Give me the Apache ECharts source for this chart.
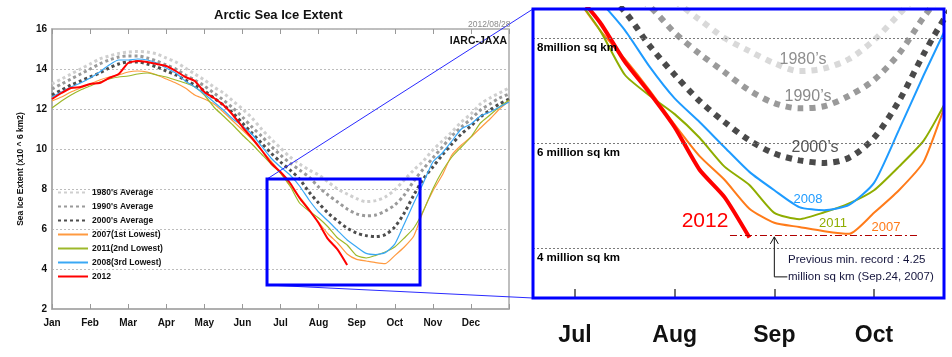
<!DOCTYPE html>
<html><head><meta charset="utf-8">
<script src="https://cdn.jsdelivr.net/npm/echarts@6/dist/echarts.min.js"></script>
<style>html,body{margin:0;padding:0;background:#fff}#c{width:952px;height:357px}</style>
</head><body><div id="c"></div>
<script>
// x positions in month units (0 = Jan 1, 12 = Dec 31)
const months = [0,0.25,0.5,0.75,1,1.25,1.5,1.75,2,2.25,2.5,2.75,3,3.25,3.5,3.75,4,4.25,4.5,4.75,5,5.25,5.5,5.75,6,6.25,6.5,6.75,7,7.25,7.5,7.75,8,8.25,8.5,8.75,9,9.25,9.5,9.75,10,10.25,10.5,10.75,11,11.25,11.5,11.75,12];
const monthLabels = ['Jan','Feb','Mar','Apr','May','Jun','Jul','Aug','Sep','Oct','Nov','Dec'];
const zoomTicks = [6,7,8,9];
const zoomLabels = ['Jul','Aug','Sep','Oct'];
const yTicks = [2,4,6,8,10,12,14,16];
const zoomGridValues = [8,6,4];
const zoomGridLabels = ['8million sq km','6 million sq km','4 million sq km'];
const prevMinRecord = 4.25;

const avg1980 = [13.25,13.5,13.75,14.0,14.25,14.5,14.65,14.78,14.85,14.88,14.85,14.75,14.55,14.35,14.05,13.75,13.45,13.1,12.8,12.4,12.0,11.55,11.0,10.5,10.05,9.6,9.25,8.95,8.7,8.35,8.0,7.75,7.52,7.37,7.42,7.6,7.96,8.45,8.95,9.4,9.95,10.4,10.85,11.35,11.75,12.25,12.55,12.8,13.05];
const avg1990 = [13.0,13.25,13.5,13.75,14.0,14.25,14.45,14.6,14.65,14.65,14.55,14.4,14.2,14.0,13.7,13.45,13.15,12.8,12.45,12.05,11.6,11.1,10.65,10.15,9.7,9.3,8.95,8.6,8.1,7.7,7.35,7.0,6.76,6.66,6.7,6.9,7.2,7.7,8.4,9.0,9.55,10.1,10.65,11.1,11.5,11.95,12.25,12.55,12.75];
const avg2000 = [12.7,12.95,13.2,13.4,13.6,13.8,14.05,14.25,14.35,14.35,14.25,14.1,13.9,13.7,13.45,13.2,12.9,12.55,12.2,11.8,11.3,10.8,10.3,9.8,9.35,8.95,8.5,7.85,7.3,6.8,6.4,6.05,5.8,5.67,5.62,5.72,6.1,6.8,7.7,8.5,9.1,9.7,10.25,10.75,11.15,11.6,11.95,12.25,12.5];
const y2007 = [12.4,12.6,12.85,13.05,13.25,13.45,13.6,13.7,13.85,13.9,13.85,13.7,13.5,13.3,13.05,12.7,12.5,12.25,11.85,11.4,10.95,10.5,9.95,9.4,8.8,8.15,7.6,7.0,6.35,5.75,5.3,4.75,4.48,4.4,4.32,4.27,4.67,5.1,5.65,6.9,7.9,8.7,9.7,10.2,10.6,11.05,11.5,12.0,12.4];
const y2011 = [12.05,12.4,12.7,12.95,13.15,13.35,13.5,13.6,13.65,13.75,13.8,13.7,13.6,13.45,13.3,13.1,12.7,12.1,11.65,11.2,10.7,10.25,9.75,9.25,8.8,8.15,7.3,6.9,6.55,6.1,5.55,5.2,4.67,4.55,4.68,4.85,5.1,5.55,6.05,6.9,8.0,8.9,9.6,10.1,10.6,11.3,11.7,12.1,12.45];
const y2008 = [12.6,12.85,13.1,13.3,13.55,13.85,14.2,14.45,14.45,14.5,14.45,14.3,14.05,13.8,13.4,13.1,12.75,12.35,11.95,11.5,11.15,10.75,10.15,9.55,9.1,8.7,8.15,7.45,6.85,6.4,5.92,5.45,5.1,4.78,4.72,4.82,5.24,6.25,7.3,8.3,9.35,9.8,10.4,11.0,11.25,11.65,11.85,12.1,12.35];
const y2012 = [12.5,12.8,13.05,13.1,13.25,13.3,13.55,13.75,14.3,14.4,14.35,14.25,14.15,13.9,13.6,13.4,12.85,12.55,12.2,11.7,11.1,10.55,9.95,9.3,8.85,8.3,7.55,6.95,6.3,5.49,4.97,4.2];

const FONT = '"Liberation Sans", Arial, sans-serif';
const pairs = vals => vals.map((v, i) => [months[i], v]);

const seriesDefs = [
  {name: "1980's Average", data: avg1980, lc: '#cfcfcf', lw: 3, ld: [3,3], rc: '#d9d9d9', rw: 6, rd: [6,6], smooth: 0.3},
  {name: "1990's Average", data: avg1990, lc: '#9a9a9a', lw: 3, ld: [3,3], rc: '#9a9a9a', rw: 6, rd: [6,6], smooth: 0.3},
  {name: "2000's Average", data: avg2000, lc: '#4d4d4d', lw: 3, ld: [3,3], rc: '#4a4a4a', rw: 6, rd: [6,6], smooth: 0.3},
  {name: '2007(1st Lowest)', data: y2007, lc: '#ff9a40', lw: 1.2, ld: 'solid', rc: '#ff7b1a', rw: 2, rd: 'solid', smooth: 0.2},
  {name: '2011(2nd Lowest)', data: y2011, lc: '#9db82a', lw: 1.2, ld: 'solid', rc: '#8fad00', rw: 2, rd: 'solid', smooth: 0.2},
  {name: '2008(3rd Lowest)', data: y2008, lc: '#3aa8f5', lw: 1.2, ld: 'solid', rc: '#1e9bff', rw: 2, rd: 'solid', smooth: 0.2},
  {name: '2012', data: y2012, lc: '#ff0000', lw: 2, ld: 'solid', rc: '#ff0000', rw: 4, rd: 'solid', smooth: 0.2}
];

const series = [];
seriesDefs.forEach(d => {
  series.push({
    name: d.name, type: 'line', xAxisIndex: 0, yAxisIndex: 0, data: pairs(d.data),
    symbol: 'none', smooth: d.smooth, color: d.lc,
    lineStyle: {color: d.lc, width: d.lw, type: d.ld}, z: 3
  });
});
seriesDefs.forEach((d, k) => {
  const s = {
    name: 'zoom ' + d.name, type: 'line', xAxisIndex: 2, yAxisIndex: 1, data: pairs(d.data),
    symbol: 'none', smooth: d.smooth, color: d.rc,
    lineStyle: {color: d.rc, width: d.rw, type: d.rd}, z: 3, clip: true
  };
  if (k === 0) {
    s.markLine = {
      silent: true, symbol: 'none', animation: false,
      lineStyle: {color: '#7a7a7a', width: 1, type: [2,2]},
      label: {position: 'insideStartBottom', distance: [4, 4], fontFamily: FONT, fontWeight: 'bold', fontSize: 11.5, color: '#000'},
      data: zoomGridValues.map((v, i) => ({yAxis: v, label: {formatter: zoomGridLabels[i]}}))
    };
  }
  if (k === 3) {
    s.markLine = {
      silent: true, symbol: 'none', animation: false,
      lineStyle: {color: '#b00000', width: 1.2, type: [7,3,2,3]},
      label: {show: false},
      data: [[{coord: [7.555, prevMinRecord]}, {coord: [9.46, prevMinRecord]}]]
    };
  }
  series.push(s);
});

const chart = echarts.init(document.getElementById('c'), null, {renderer: 'canvas'});
chart.setOption({
  animation: false,
  backgroundColor: '#fff',
  textStyle: {fontFamily: FONT},
  title: {text: 'Arctic Sea Ice Extent', left: 214, top: 9, padding: 0,
    textStyle: {fontFamily: FONT, fontSize: 13, fontWeight: 'bold', color: '#111'}},
  legend: {
    data: seriesDefs.map(d => d.name), orient: 'vertical', left: 57, top: 188, padding: 0,
    itemWidth: 30, itemHeight: 10, itemGap: 5, selectedMode: false,
    itemStyle: {opacity: 0, borderWidth: 0},
    textStyle: {fontFamily: FONT, fontSize: 8.5, fontWeight: 'bold', color: '#111', padding: [0,0,0,-1]}
  },
  grid: [
    {left: 52, top: 29, width: 457, height: 280, show: true, borderColor: '#aaa', borderWidth: 1.5, backgroundColor: 'transparent'},
    {left: 533, top: 9, width: 411, height: 289, show: false}
  ],
  xAxis: [
    {type: 'value', gridIndex: 0, min: 0, max: 12, interval: 1,
      axisLine: {show: true, lineStyle: {color: '#aaa', width: 1.5}},
      axisTick: {show: true, inside: true, length: 5, lineStyle: {color: '#999', width: 1}},
      axisLabel: {margin: 9, fontFamily: FONT, fontSize: 10, fontWeight: 'bold', color: '#111',
        formatter: v => monthLabels[v] || ''},
      splitLine: {show: false}},
    {type: 'value', gridIndex: 0, position: 'top', min: 0, max: 12, interval: 1,
      axisLine: {show: false},
      axisTick: {show: true, inside: true, length: 5, lineStyle: {color: '#999', width: 1}},
      axisLabel: {show: false}, splitLine: {show: false}},
    {type: 'value', gridIndex: 1, min: 5.579, max: 9.702,
      axisLine: {show: false},
      axisTick: {show: true, inside: true, length: 9, customValues: zoomTicks, lineStyle: {color: '#444', width: 1.5}},
      axisLabel: {show: true, customValues: zoomTicks, margin: 26, fontFamily: FONT, fontSize: 23, fontWeight: 'bold', color: '#111',
        formatter: v => zoomLabels[zoomTicks.indexOf(Math.round(v))] || ''},
      splitLine: {show: false}}
  ],
  yAxis: [
    {type: 'value', gridIndex: 0, min: 2, max: 16, interval: 2,
      name: 'Sea Ice Extent (x10 ^ 6 km2)', nameLocation: 'middle', nameGap: 27, nameRotate: 90,
      nameTextStyle: {fontFamily: FONT, fontSize: 8.5, fontWeight: 'bold', color: '#111'},
      axisLine: {show: true, lineStyle: {color: '#aaa', width: 1.5}},
      axisTick: {show: false},
      axisLabel: {margin: 5, fontFamily: FONT, fontSize: 10, fontWeight: 'bold', color: '#111',
        formatter: v => yTicks.indexOf(v) >= 0 ? String(v) : ''},
      splitLine: {show: true, lineStyle: {color: '#bdbdbd', width: 1, type: [2,2]}}},
    {type: 'value', gridIndex: 1, min: 3.048, max: 8.552,
      axisLine: {show: false}, axisTick: {show: false}, axisLabel: {show: false}, splitLine: {show: false}}
  ],
  series: series
});

// annotations placed from data coordinates
const px0 = (x, y) => chart.convertToPixel({gridIndex: 0}, [x, y]);
const px1 = (x, y) => chart.convertToPixel({gridIndex: 1}, [x, y]);
const rTL = px0(5.646, 8.5), rBR = px0(9.664, 3.2);
const zTL = px1(5.579, 8.552), zBR = px1(9.702, 3.048);
const arrowTop = px1(8, prevMinRecord);
const tipY = arrowTop[1] + 2, baseY = arrowTop[1] + 42, ax = arrowTop[0];

const txt = (text, x, y, size, color, opts) => Object.assign({
  type: 'text', x: x, y: y, z: 20, silent: true,
  style: Object.assign({text: text, fontFamily: FONT, fontSize: size, fill: color, align: 'center', verticalAlign: 'middle'}, (opts || {}))
});

chart.setOption({
  graphic: [
    txt('2012/08/28', 468, 25, 8.5, '#8a8a8a', {align: 'left'}),
    txt('IARC-JAXA', 507, 41, 10.5, '#111', {align: 'right', fontWeight: 'bold'}),
    {type: 'line', z: 18, silent: true, shape: {x1: rTL[0], y1: rTL[1], x2: zTL[0], y2: zTL[1]}, style: {stroke: '#2a2aff', lineWidth: 1}},
    {type: 'line', z: 18, silent: true, shape: {x1: rTL[0], y1: rBR[1], x2: zTL[0], y2: zBR[1]}, style: {stroke: '#2a2aff', lineWidth: 1}},
    {type: 'rect', z: 19, silent: true, shape: {x: rTL[0], y: rTL[1], width: rBR[0] - rTL[0], height: rBR[1] - rTL[1]},
      style: {fill: 'none', stroke: '#0000ff', lineWidth: 3}},
    {type: 'rect', z: 19, silent: true, shape: {x: zTL[0], y: zTL[1], width: zBR[0] - zTL[0], height: zBR[1] - zTL[1]},
      style: {fill: 'none', stroke: '#0000ff', lineWidth: 3}},
    txt('1980\u2019s', 803, 60, 16, '#8f8f8f'),
    txt('1990\u2019s', 808, 97, 16, '#8a8a8a'),
    txt('2000\u2019s', 815, 148, 16, '#555'),
    txt('2008', 808, 199, 13, '#1e9bff'),
    txt('2011', 833, 223, 13, '#8fad00'),
    txt('2007', 886, 227, 13, '#ff7b1a'),
    txt('2012', 705, 221, 21, '#ff0000'),
    {type: 'polyline', z: 20, silent: true, shape: {points: [[ax, tipY], [ax, baseY], [ax + 13, baseY]]}, style: {stroke: '#111', lineWidth: 1, fill: 'none'}},
    {type: 'polyline', z: 20, silent: true, shape: {points: [[ax - 4, tipY + 7], [ax, tipY], [ax + 4, tipY + 7]]}, style: {stroke: '#111', lineWidth: 1, fill: 'none'}},
    txt('Previous min. record : 4.25', 788, 260, 11.5, '#14143c', {align: 'left'}),
    txt('million sq km (Sep.24, 2007)', 788, 277, 11.5, '#14143c', {align: 'left'})
  ]
});
</script></body></html>
